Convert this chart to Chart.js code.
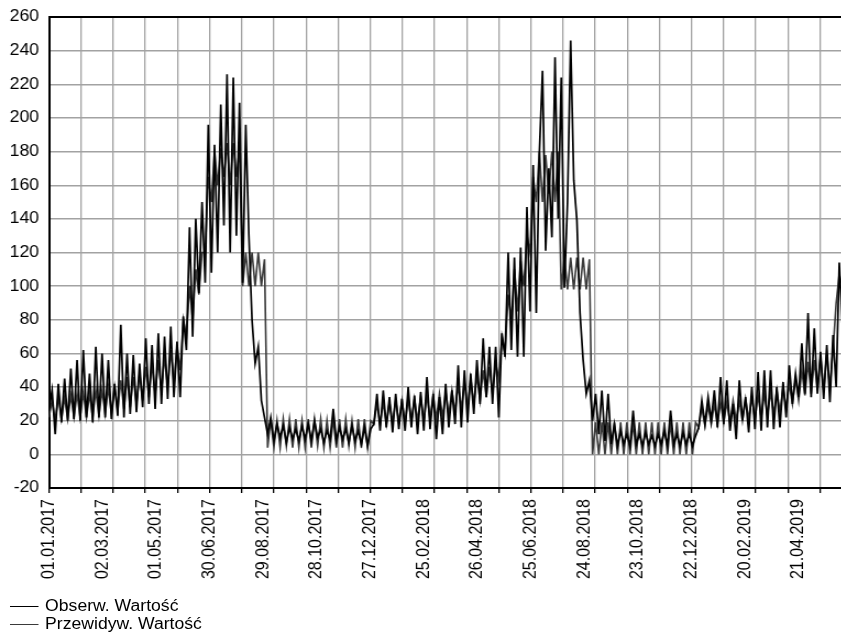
<!DOCTYPE html>
<html><head><meta charset="utf-8">
<script src="https://cdn.jsdelivr.net/npm/chart.js@4"></script>
<style>
html,body{margin:0;padding:0;background:#fff;overflow:hidden;}
#wrap{position:absolute;left:0;top:0;width:765px;height:635px;transform:scaleX(1.1);transform-origin:0 0;}
#legend{position:absolute;left:9px;top:597px;font:16px "Liberation Sans",Arial,sans-serif;color:#000;}
.row{height:18px;line-height:18px;white-space:nowrap;display:flex;align-items:center;}
.sw{display:inline-block;width:26px;height:0;border-top:1px solid #000;margin-right:6px;}
</style></head>
<body>
<div id="wrap"><canvas id="c" width="765" height="635"></canvas><div id="legend"></div></div>
<script>
// x axis: day number counted from 01.01.2017
const labelDays = [0,60,120,180,240,300,360,420,480,540,600,660,720,780,840];
const labelTexts = ['01.01.2017','02.03.2017','01.05.2017','30.06.2017','29.08.2017','28.10.2017','27.12.2017','25.02.2018','26.04.2018','25.06.2018','24.08.2018','23.10.2018','22.12.2018','20.02.2019','21.04.2019'];
const gridDays = [0,36,72,108,144,180,216,252,288,324,360,396,432,468,504,540,576,612,648,684,720,756,792,828,864];
const dayMax = 888;
const yTicksMin = -20, yTicksMax = 260, yStep = 20;
const seriesNames = ['Obserw. Wartość','Przewidyw. Wartość'];
const sampleStepDays = 3.5; // two readings per week

const observed = [
26,38, 12,42, 19,45, 20,51, 21,56, 20,62, 22,48, 19,64, 22,60, 22,56,
21,42, 23,77, 22,60, 24,59, 25,54, 28,69, 30,65, 27,72, 30,70, 33,76,
34,67, 34,82, 62,135, 70,140, 96,150, 102,196, 108,184, 120,208, 136,226, 120,224,
130,209, 102,196, 130,80, 54,64, 32,22, 12,22, 8,18, 10,17, 7,16, 9,15,
8,17, 9,18, 8,20, 10,15, 7,14, 9,27, 8,16, 9,15, 7,17, 8,14,
6,16, 5,15, 18,36, 14,38, 16,34, 13,36, 15,33, 14,40, 16,35, 12,37,
14,46, 15,36, 9,34, 12,42, 16,38, 18,53, 16,50, 19,48, 24,56, 30,69,
34,64, 30,64, 22,72, 58,120, 62,117, 58,123, 58,147, 85,172, 84,180, 228,121,
170,129, 236,140, 224,99, 150,246, 163,139, 84,56, 36,44, 20,36, 12,38, 8,36,
6,18, 5,14, 6,12, 5,26, 6,12, 5,13, 6,11, 5,12, 6,14, 5,26,
6,12, 5,13, 6,12, 5,11, 16,32, 18,34, 20,38, 16,46, 18,44, 14,30,
9,44, 20,34, 13,40, 15,49, 14,50, 16,50, 15,40, 16,43, 22,53, 30,48,
34,66, 36,84, 34,75, 36,61, 33,65, 31,71, 40,114, 78
];

const predicted = [
22,32, 20,34, 21,34, 21,35, 22,36, 22,37, 22,36, 22,38, 23,38, 24,40,
24,40, 26,44, 27,46, 28,46, 30,48, 32,52, 34,54, 36,56, 38,58, 40,62,
42,64, 50,80, 70,100, 80,110, 95,120, 120,165, 150,180, 160,182, 165,185, 160,185,
165,182, 100,120, 100,120, 100,120, 100,116, 4,21, 4,20, 4,21, 5,21, 4,21,
4,20, 4,21, 4,21, 5,21, 4,20, 4,21, 4,21, 4,21, 5,20, 4,21,
4,21, 4,20, 18,30, 18,31, 18,31, 19,32, 19,32, 19,33, 20,33, 20,34,
20,35, 21,35, 21,36, 22,37, 23,38, 25,41, 27,43, 28,45, 30,47, 32,50,
34,52, 36,54, 45,70, 60,95, 80,110, 85,115, 100,130, 120,165, 150,180, 150,178,
155,180, 150,180, 98,117, 98,117, 98,117, 98,117, 98,116, 0,19, 0,19, 0,19,
0,19, 0,19, 0,19, 0,19, 0,19, 0,19, 0,19, 0,19, 0,19, 0,19,
0,19, 0,19, 0,19, 0,19, 16,28, 17,29, 18,30, 18,31, 19,31, 19,32,
20,32, 20,33, 21,34, 21,35, 22,36, 23,37, 24,38, 25,40, 27,42, 30,45,
32,50, 35,55, 36,56, 38,58, 38,60, 40,62, 90,107, 100
];

const toPoints = arr => arr.map((v, i) => ({x: i * sampleStepDays, y: v}));
const tickDays = Array.from(new Set(gridDays.concat(labelDays))).sort((a, b) => a - b);
const FONT = {family: '"Liberation Sans", Arial, sans-serif', size: 16};
const GRID = '#a2a2a2';
const isGrid = c => c.tick && gridDays.indexOf(c.tick.value) >= 0;

const datasets = [
  {label: seriesNames[0], data: toPoints(observed), borderColor: '#000000', borderWidth: 1.7},
  {label: seriesNames[1], data: toPoints(predicted), borderColor: '#3a3a3a', borderWidth: 1.6}
];

const frameTop = {
  id: 'frameTop',
  afterDatasetsDraw(chart) {
    const {ctx, chartArea: a} = chart;
    ctx.save();
    ctx.strokeStyle = '#000';
    ctx.lineWidth = 2;
    ctx.beginPath();
    ctx.moveTo(a.left, a.top);
    ctx.lineTo(a.right, a.top);
    ctx.stroke();
    ctx.restore();
  }
};

new Chart(document.getElementById('c'), {
  type: 'line',
  data: {datasets},
  options: {
    responsive: false,
    animation: false,
    layout: {padding: {top: 17, left: 0, right: 0, bottom: 0}},
    elements: {point: {radius: 0}, line: {tension: 0, fill: false}},
    plugins: {legend: {display: false}, tooltip: {enabled: false}},
    scales: {
      x: {
        type: 'linear', min: 0, max: dayMax,
        afterBuildTicks: s => { s.ticks = tickDays.map(v => ({value: v})); },
        afterFit: s => { s.height = 147; s.paddingLeft = 0; s.paddingRight = 0; },
        ticks: {
          autoSkip: false, maxRotation: 90, minRotation: 90, padding: 6, color: '#000', font: FONT,
          callback: v => { const i = labelDays.indexOf(v); return i >= 0 ? labelTexts[i] : ''; }
        },
        grid: {
          color: c => isGrid(c) ? GRID : 'rgba(0,0,0,0)',
          tickColor: c => isGrid(c) ? '#000' : 'rgba(0,0,0,0)',
          lineWidth: 1.3, tickLength: 5
        },
        border: {color: '#000', width: 2}
      },
      y: {
        min: yTicksMin, max: yTicksMax,
        afterFit: s => { s.width = 44.5; s.paddingTop = 0; s.paddingBottom = 0; },
        ticks: {stepSize: yStep, padding: 9, color: '#000', font: FONT},
        grid: {color: GRID, lineWidth: 1.4, drawTicks: false},
        border: {color: '#000', width: 2}
      }
    }
  },
  plugins: [frameTop]
});

const lg = document.getElementById('legend');
datasets.forEach(d => {
  const row = document.createElement('div');
  row.className = 'row';
  const sw = document.createElement('span');
  sw.className = 'sw';
  sw.style.borderTopColor = d.borderColor;
  const tx = document.createElement('span');
  tx.textContent = d.label;
  row.appendChild(sw); row.appendChild(tx);
  lg.appendChild(row);
});
</script>
</body></html>
